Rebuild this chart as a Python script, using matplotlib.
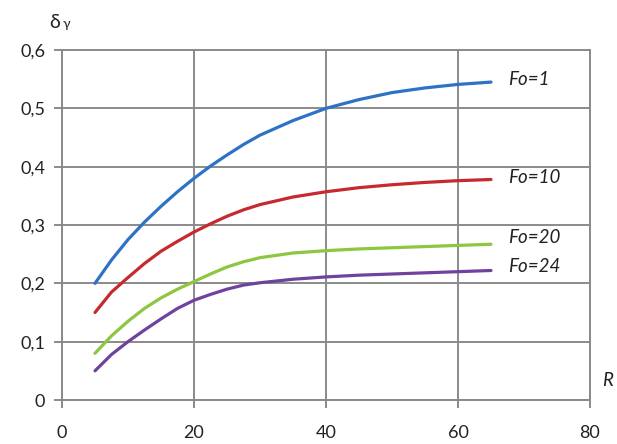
import matplotlib
matplotlib.use("Agg")
import matplotlib.pyplot as plt

plt.rcParams['font.family'] = ['Lato', 'DejaVu Sans']

R = [5, 7.5, 10, 12.5, 15, 17.5, 20, 22.5, 25, 27.5, 30, 35, 40, 45, 50, 55, 60, 65]
fo1 = [0.20, 0.24, 0.275, 0.305, 0.332, 0.357, 0.38, 0.401, 0.42, 0.438, 0.454, 0.479, 0.50, 0.515, 0.527, 0.535, 0.541, 0.545]
fo10 = [0.15, 0.185, 0.21, 0.234, 0.255, 0.272, 0.288, 0.302, 0.315, 0.326, 0.335, 0.348, 0.357, 0.364, 0.369, 0.373, 0.376, 0.378]
fo20 = [0.08, 0.11, 0.135, 0.157, 0.175, 0.19, 0.203, 0.216, 0.228, 0.237, 0.244, 0.252, 0.256, 0.259, 0.261, 0.263, 0.265, 0.267]
fo24 = [0.05, 0.078, 0.10, 0.12, 0.139, 0.157, 0.171, 0.181, 0.19, 0.197, 0.201, 0.207, 0.211, 0.214, 0.216, 0.218, 0.22, 0.222]

series = [fo1, fo10, fo20, fo24]
labels = ["Fo=1", "Fo=10", "Fo=20", "Fo=24"]
colors = ["#2E72C6", "#C62A2E", "#8DC63F", "#7042A0"]
label_y = [0.549, 0.381, 0.278, 0.228]

xticks = [0, 20, 40, 60, 80]
yticks = [0, 0.1, 0.2, 0.3, 0.4, 0.5, 0.6]
yticklabels = ["0", "0,1", "0,2", "0,3", "0,4", "0,5", "0,6"]

fig = plt.figure(figsize=(6.17, 4.44), dpi=100)
ax = fig.add_axes([62/617, 44/444, (590-62)/617, (400-50)/444])

grid_c = "#8a8a8a"
for y, c in zip(series, colors):
    ax.plot(R, y, color=c, lw=2.3, solid_capstyle='round', solid_joinstyle='round', zorder=3)

for lab, ly, c in zip(labels, label_y, colors):
    ax.text(67.6, ly, lab, fontsize=13.5, style='italic', va='center', ha='left', color='#222222')

ax.set_xlim(0, 80)
ax.set_ylim(0, 0.6)
ax.set_xticks(xticks)
ax.set_yticks(yticks)
ax.set_yticklabels(yticklabels)
ax.grid(True, color=grid_c, lw=1.4)
ax.set_axisbelow(True)
for s in ax.spines.values():
    s.set_color(grid_c)
    s.set_linewidth(1.4)
ax.tick_params(axis='both', colors=grid_c, length=6, width=1.4, labelsize=13, labelcolor='#222222')
ax.tick_params(axis='x', pad=12)
ax.tick_params(axis='y', pad=6)

ax.text(82.6, 0.034, "R", fontsize=13.5, style='italic', va='center', ha='center', color='#222222')
fig.text(55/617, 1 - 22/444, "δ", fontsize=14, va='center', ha='center', color='#222222')
fig.text(66/617, 1 - 24/444, "γ", fontsize=10, va='center', ha='center', color='#222222')

fig.savefig("out.png", dpi=100)
